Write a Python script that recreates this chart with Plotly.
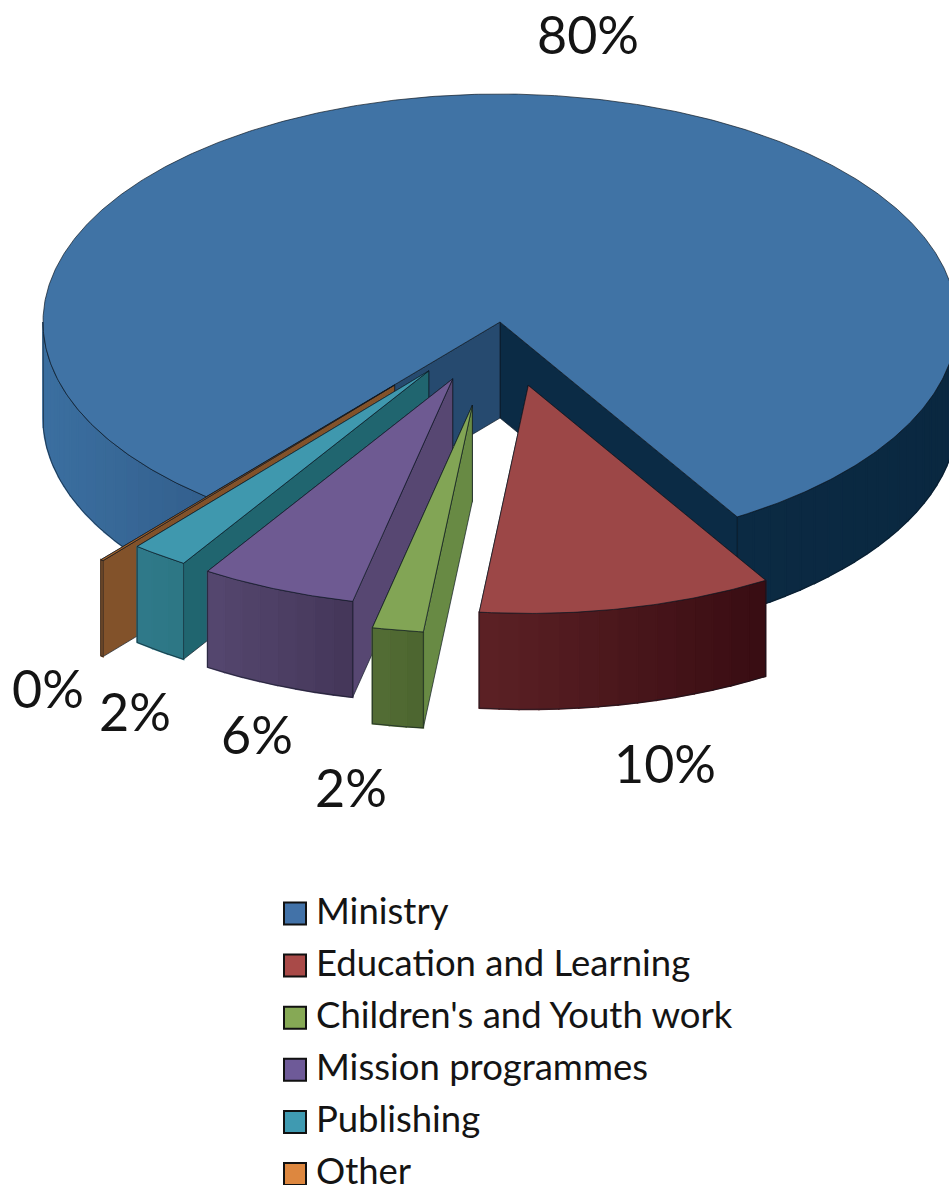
import numpy as np
import plotly.graph_objects as go

# Share of spending by category, in percent
categories = ["Ministry", "Education and Learning", "Children's and Youth work",
              "Mission programmes", "Publishing", "Other"]
shares = [80.2, 10.4, 1.8, 5.5, 2.0, 0.1]

# Colours of each wedge: legend swatch, top face, cut faces, rim gradient stops
swatch_colors = ["#4272a8", "#a94a48", "#86a955", "#6e5a98", "#3f9ab1", "#dd873f"]
top_colors = ["#4073a5", "#9c4747", "#82a555", "#6e5a92", "#3f98ae", "#a8652b"]
start_face_colors = ["#264a6f", "#5a2024", "#688a44", "#574772", "#20656f", "#82522a"]
end_face_colors = ["#0b2b45", "#5a2024", "#526c34", "#54466f", "#2f7a8a", "#82522a"]
rim_stops = [
    [(0.0, "#3b6fa0"), (0.18, "#335f8d"), (0.76, "#0b2a43"), (1.0, "#0a2840")],
    [(0.0, "#5c2125"), (1.0, "#380c12")],
    [(0.0, "#536e35"), (1.0, "#4c642f")],
    [(0.0, "#55476f"), (1.0, "#443659")],
    [(0.0, "#2f7a8a"), (1.0, "#2d7684")],
    [(0.0, "#82522a"), (1.0, "#82522a")],
]

# Explosion of each wedge, as a fraction of the radius
pull = [0.0, 0.285, 0.37, 0.27, 0.265, 0.36]

# Projected pie geometry on a pixel-sized axis pair
CX, CY, RX, RY, DEPTH = 500.0, 322.0, 457.0, 228.0, 96.0
START_ANGLE = 220.0
OUTLINE = "rgba(12,22,32,0.85)"

# Placement of the percentage labels and legend rows
label_x = [588, 665, 351, 257, 135, 48]
label_y = [41, 770, 794, 741, 718, 695]
LEGEND_SWATCH_X = 295
LEGEND_TEXT_X = 316
LEGEND_TOP = 913.5
LEGEND_TEXT_TOP = 914.5
LEGEND_STEP = 52.1
FONT = "Lato, Carlito, Calibri, sans-serif"

fig = go.Figure()


def hex_rgb(c):
    return np.array([int(c[i:i + 2], 16) for i in (1, 3, 5)], dtype=float)


def stop_color(stops, t):
    fr = [s[0] for s in stops]
    cols = np.array([hex_rgb(s[1]) for s in stops])
    rgb = [np.interp(t, fr, cols[:, k]) for k in range(3)]
    return "rgb(%d,%d,%d)" % tuple(int(round(v)) for v in rgb)


def project(deg, ox=0.0, oy=0.0):
    r = np.radians(deg)
    return CX + RX * np.sin(r) + ox, CY - RY * np.cos(r) + oy


def polygon(xs, ys, fill, line=None, width=0.6):
    fig.add_trace(go.Scatter(
        x=list(xs), y=list(ys), mode="lines", fill="toself", fillcolor=fill,
        line=dict(color=line or fill, width=width),
        hoverinfo="skip", showlegend=False))


def outline(xs, ys, width=0.9):
    fig.add_trace(go.Scatter(
        x=list(xs), y=list(ys), mode="lines",
        line=dict(color=OUTLINE, width=width),
        hoverinfo="skip", showlegend=False))


def cut_face(deg, ox, oy, color):
    ax, ay = CX + ox, CY + oy
    rx, ry = project(deg, ox, oy)
    xs = [ax, rx, rx, ax, ax]
    ys = [ay, ry, ry + DEPTH, ay + DEPTH, ay]
    polygon(xs, ys, color, OUTLINE, 0.8)


def front_ranges(a0, a1):
    # Parts of a wedge's rim that face the viewer (90..270 degrees, modulo a turn)
    spans = []
    for k in (0, 360):
        lo, hi = max(a0, 90 + k), min(a1, 270 + k)
        if hi > lo:
            spans.append((lo, hi))
    return spans


def rim_wall(a0, a1, ox, oy, stops):
    spans = front_ranges(a0, a1)
    if not spans:
        return
    ends = [project(a, ox, oy)[0] for s in spans for a in s]
    x_lo, x_hi = min(ends), max(ends)
    if any(s[0] <= 270 <= s[1] for s in spans):
        x_lo = CX - RX + ox
    for lo, hi in spans:
        n = max(2, int(np.ceil((hi - lo) / 2.5)))
        edges = np.linspace(lo, hi, n + 1)
        # Each band overlaps its neighbour so no seams show between them
        for d0, d1 in zip(edges[:-1], edges[1:]):
            ang = np.linspace(d0, d1, 5)
            x, y = project(ang, ox, oy)
            mid = 0.5 * (x[0] + x[-1])
            t = (mid - x_lo) / max(x_hi - x_lo, 1e-6)
            polygon(np.r_[x, x[::-1], x[0]],
                    np.r_[y, y[::-1] + DEPTH, y[0]],
                    stop_color(stops, t), None, 1.6)
        ang = np.linspace(lo, hi, 60)
        x, y = project(ang, ox, oy)
        outline(np.r_[x, x[-1], x[::-1], x[0]],
                np.r_[y, y[-1] + DEPTH, y[::-1] + DEPTH, y[0]], 0.7)


# Wedge angles follow from the shares, clockwise from the starting angle
edges = START_ANGLE + 3.6 * np.r_[0.0, np.cumsum(shares)]

# Back-to-front drawing order: Ministry, then the smaller wedges toward the viewer
for i in [0, 5, 4, 3, 2, 1]:
    a0, a1 = edges[i], edges[i + 1]
    mid = np.radians(0.5 * (a0 + a1))
    ox = pull[i] * RX * np.sin(mid)
    oy = -pull[i] * RY * np.cos(mid)
    cut_face(a1, ox, oy, end_face_colors[i])
    cut_face(a0, ox, oy, start_face_colors[i])
    rim_wall(a0, a1, ox, oy, rim_stops[i])
    ang = np.linspace(a0, a1, max(3, int((a1 - a0) * 2)))
    x, y = project(ang, ox, oy)
    polygon(np.r_[CX + ox, x, CX + ox], np.r_[CY + oy, y, CY + oy],
            top_colors[i], OUTLINE, 0.8)

# Percentage labels, rounded from the shares
fig.add_trace(go.Scatter(
    x=label_x, y=label_y, mode="text",
    text=[f"{round(v)}%" for v in shares],
    textposition="middle center",
    textfont=dict(family=FONT, size=52, color="#141414"),
    hoverinfo="skip", showlegend=False))

# Legend rows: square swatch plus category name
fig.add_trace(go.Scatter(
    x=[LEGEND_SWATCH_X] * len(categories),
    y=[LEGEND_TOP + LEGEND_STEP * i for i in range(len(categories))],
    mode="markers",
    marker=dict(symbol="square", size=22, color=swatch_colors,
                line=dict(color="#111111", width=2)),
    hoverinfo="skip", showlegend=False))
fig.add_trace(go.Scatter(
    x=[LEGEND_TEXT_X] * len(categories),
    y=[LEGEND_TEXT_TOP + LEGEND_STEP * i for i in range(len(categories))],
    mode="text",
    text=categories, textposition="middle right",
    textfont=dict(family=FONT, size=36.5, color="#141414"),
    hoverinfo="skip", showlegend=False))

fig.update_layout(
    width=949, height=1185, autosize=False,
    margin=dict(l=0, r=0, t=0, b=0),
    paper_bgcolor="white", plot_bgcolor="white",
    showlegend=False,
    xaxis=dict(range=[0, 949], visible=False, fixedrange=True),
    yaxis=dict(range=[1185, 0], visible=False, fixedrange=True),
)

fig.write_html("out.html")
